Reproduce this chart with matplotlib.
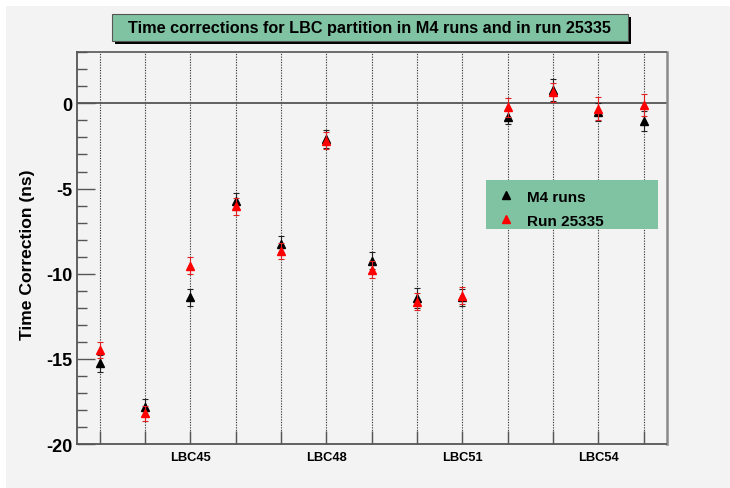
import matplotlib
matplotlib.use("Agg")
import matplotlib.pyplot as plt
from matplotlib.patches import Rectangle
from matplotlib.lines import Line2D

plt.rcParams['font.family'] = ['Liberation Sans', 'DejaVu Sans']
plt.rcParams['font.weight'] = 'bold'

# ---- data ----
modules = [43, 44, 45, 46, 47, 48, 49, 50, 51, 52, 53, 54, 55]
tick_labels = ["", "", "LBC45", "", "", "LBC48", "", "", "LBC51", "", "", "LBC54", ""]
m4_vals = [-15.26, -17.85, -11.39, -5.75, -8.26, -2.09, -9.24, -11.44, -11.39, -0.77, 0.80, -0.50, -1.04]
m4_errs = [0.50, 0.50, 0.52, 0.50, 0.45, 0.50, 0.50, 0.60, 0.50, 0.45, 0.65, 0.55, 0.60]
run_vals = [-14.48, -18.20, -9.53, -6.04, -8.67, -2.19, -9.76, -11.64, -11.29, -0.24, 0.65, -0.30, -0.10]
run_errs = [0.45, 0.45, 0.50, 0.50, 0.47, 0.50, 0.50, 0.50, 0.50, 0.53, 0.55, 0.65, 0.65]
title = "Time corrections for LBC partition in M4 runs and in run 25335"
ylabel = "Time Correction (ns)"
legend_labels = ["M4 runs", "Run 25335"]

W, H = 730, 489
fig = plt.figure(figsize=(W / 100, H / 100), dpi=100)
fig.patch.set_facecolor('white')
bg = '#f3f3f3'
# canvas grey area
fig.patches.append(Rectangle((6 / W, -0.01), 1, 1.01 - 7 / H, transform=fig.transFigure,
                             facecolor=bg, edgecolor='none', zorder=-10))

def fx(px):
    return px / W

def fy(py):
    return 1 - py / H

left, right, top, bottom = 77, 666.5, 53.3, 445
ax = fig.add_axes([fx(left), fy(bottom), fx(right) - fx(left), (bottom - top) / H])
ax.set_facecolor(bg)
ax.set_xlim(42.5, 55.5)
ax.set_ylim(-20, 3)

# frame
for s in ['left', 'bottom']:
    ax.spines[s].set_color('#555555')
    ax.spines[s].set_linewidth(1.3)
ax.spines['right'].set_color('#8a8a8a')
ax.spines['right'].set_linewidth(1.8)
ax.spines['top'].set_color('#555555')
ax.spines['top'].set_linewidth(1.2)

# vertical dotted lines at modules
for m in modules:
    ax.axvline(m, color='#444444', lw=0.8, ls=(0, (1.2, 1.2)), zorder=1)
ax.axhline(0, color='#555555', lw=1.3, zorder=1)

# ticks
ax.set_xticks(modules)
ax.set_xticklabels(tick_labels, fontsize=9.3, fontweight='bold')
ax.tick_params(axis='x', direction='in', length=9.5, width=1.0, color='#555555', pad=5)
ax.set_yticks([-20, -15, -10, -5, 0])
ax.set_yticklabels(["-20", "-15", "-10", "-5", "0"], fontsize=13, fontweight='bold')
ax.set_yticks(range(-20, 4), minor=True)
ax.tick_params(axis='y', which='major', direction='in', length=13, width=1.0, color='#555555', pad=3)
ax.tick_params(axis='y', which='minor', direction='in', length=7, width=1.0, color='#555555')

# data
ax.errorbar(modules, m4_vals, yerr=m4_errs, fmt='^', color='black', ms=5.5,
            ecolor='#222222', elinewidth=0.8, capsize=2.5, capthick=0.8, zorder=3)
ax.errorbar(modules, run_vals, yerr=run_errs, fmt='^', color='#ff0000', ms=5.5,
            ecolor='#e02020', elinewidth=0.8, capsize=2.5, capthick=0.8, zorder=4)

# y label
fig.text(fx(28), fy(255), ylabel, rotation=90, ha='center', va='center',
         fontsize=12.6, fontweight='bold')

# title box with shadow
tx0, tx1, ty0, ty1 = 111.7, 627.7, 14.7, 41.7
fig.patches.append(Rectangle((fx(tx0 + 3), fy(ty1 + 3)), fx(tx1) - fx(tx0), (ty1 - ty0) / H,
                             transform=fig.transFigure, facecolor='black', edgecolor='none', zorder=1))
fig.patches.append(Rectangle((fx(tx0), fy(ty1)), fx(tx1) - fx(tx0), (ty1 - ty0) / H,
                             transform=fig.transFigure, facecolor='#80c3a2', edgecolor='#555555',
                             lw=0.8, zorder=2))
fig.text(fx((tx0 + tx1) / 2), fy((ty0 + ty1) / 2), title, ha='center', va='center',
         fontsize=11.7, fontweight='bold', zorder=3)

# legend box
lx0, lx1, ly0, ly1 = 485.7, 657.7, 181, 230
ax.add_patch(Rectangle((fx(lx0), fy(ly1)), fx(lx1) - fx(lx0), (ly1 - ly0) / H,
                       transform=fig.transFigure, facecolor='#80c3a2', edgecolor='none',
                       zorder=5, clip_on=False))
handles = [Line2D([], [], marker='^', ls='none', color='black', ms=5.5),
           Line2D([], [], marker='^', ls='none', color='#ff0000', ms=5.5)]
leg = fig.legend(handles, legend_labels, loc='upper left',
                 bbox_to_anchor=(fx(lx0 - 3), fy(ly0 - 1)), frameon=False,
                 prop={'weight': 'bold', 'size': 11}, handlelength=1.6,
                 handletextpad=0.6, labelspacing=0.65, borderpad=0.2)
leg.set_zorder(6)

fig.savefig("out.png", dpi=100, facecolor=fig.get_facecolor())
